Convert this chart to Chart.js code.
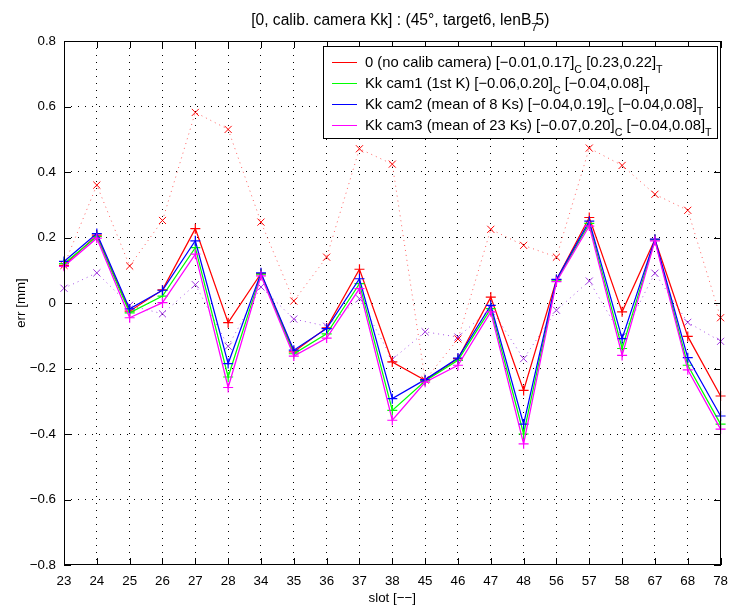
<!DOCTYPE html>
<html><head><meta charset="utf-8">
<script src="https://cdn.jsdelivr.net/npm/chart.js@4.4.0/dist/chart.umd.min.js"></script>
<style>html,body{margin:0;padding:0;background:#fff;}canvas{display:block;}</style>
</head><body>
<canvas id="c" width="736" height="605"></canvas>
<script>
const categories = ['23','24','25','26','27','28','34','35','36','37','38','45','46','47','48','56','57','58','67','68','78'];
const noCalibC = [0.115, 0.207, -0.025, 0.040, 0.227, -0.060, 0.090, -0.149, -0.076, 0.103, -0.180, -0.236, -0.170, 0.018, -0.267, 0.071, 0.261, -0.027, 0.194, -0.102, -0.284];
const cam1C    = [0.120, 0.203, -0.030, 0.021, 0.169, -0.226, 0.088, -0.155, -0.094, 0.059, -0.328, -0.238, -0.175, -0.017, -0.400, 0.068, 0.243, -0.139, 0.193, -0.190, -0.370];
const cam2C    = [0.127, 0.212, -0.018, 0.039, 0.190, -0.185, 0.092, -0.144, -0.078, 0.074, -0.292, -0.234, -0.168, -0.007, -0.370, 0.072, 0.250, -0.109, 0.195, -0.167, -0.345];
const cam3C    = [0.112, 0.198, -0.045, 0.001, 0.149, -0.258, 0.083, -0.162, -0.107, 0.044, -0.358, -0.242, -0.190, -0.027, -0.430, 0.065, 0.235, -0.160, 0.190, -0.204, -0.385];
const noCalibT = [0.115, 0.360, 0.113, 0.252, 0.582, 0.530, 0.247, 0.006, 0.140, 0.471, 0.424, -0.235, -0.110, 0.225, 0.176, 0.140, 0.473, 0.420, 0.332, 0.283, -0.045];
const kkT      = [0.045, 0.092, -0.007, -0.033, 0.056, -0.132, 0.049, -0.049, -0.071, 0.013, -0.172, -0.088, -0.104, -0.017, -0.170, -0.022, 0.067, -0.103, 0.091, -0.059, -0.117];
const yMin = -0.8, yMax = 0.8, yStep = 0.2;
const legendLabels = ['0 (no calib camera)', 'Kk cam1 (1st K)', 'Kk cam2 (mean of 8 Ks)', 'Kk cam3 (mean of 23 Ks)'];
const legendC = ['[\u22120.01,0.17]', '[\u22120.06,0.20]', '[\u22120.04,0.19]', '[\u22120.07,0.20]'];
const legendT = ['[0.23,0.22]', '[\u22120.04,0.08]', '[\u22120.04,0.08]', '[\u22120.04,0.08]'];
const seriesColors = ['#ff0000', '#00ff00', '#0000ff', '#ff00ff'];
const tColors = ['#ff0000', '#a033e0'];
const tLineColors = ['#ff6060', '#a855e6'];
const xTitle = 'slot [\u2212\u2212]';
const yTitle = 'err [mm]';

const FONT = "'Liberation Sans', Arial, Helvetica, sans-serif";
const FS = 13.33;
const LFS = 14.8;
const TFS = 15.6;

function richWidth(ctx, parts, size) {
  let w = 0;
  parts.forEach(p => { ctx.font = (p.sub ? size * 0.72 : size) + 'px ' + FONT; w += ctx.measureText(p.t).width + (p.dx || 0); });
  return w;
}
function drawRich(ctx, parts, x, y, size) {
  let cx = x;
  parts.forEach(p => {
    ctx.font = (p.sub ? size * 0.72 : size) + 'px ' + FONT;
    cx += (p.dx || 0);
    ctx.fillText(p.t, cx, y + (p.sub ? size * 0.38 : 0));
    cx += ctx.measureText(p.t).width;
  });
  return cx;
}

const edgeTransparent = c => (c.index === 0 || c.index === c.scale.ticks.length - 1) ? 'rgba(0,0,0,0)' : '#000000';

const framePlugin = {
  id: 'axesFrame',
  afterDatasetsDraw(chart) {
    const ctx = chart.ctx;
    const a = chart.chartArea;
    const xs = chart.scales.x, ys = chart.scales.y;
    const L = Math.round(a.left), R = Math.round(a.right) - 1, T = Math.round(a.top), B = Math.round(a.bottom) - 1;
    ctx.save();
    ctx.fillStyle = '#000000';
    ctx.fillRect(L, T, R - L + 1, 1);
    ctx.fillRect(L, B, R - L + 1, 1);
    ctx.fillRect(L, T, 1, B - T + 1);
    ctx.fillRect(R, T, 1, B - T + 1);
    const tl = 7;
    for (let i = 0; i < categories.length; i++) {
      const px = Math.round(xs.getPixelForValue(i));
      ctx.fillRect(px, B - tl + 1, 1, tl);
      ctx.fillRect(px, T, 1, tl);
    }
    const n = Math.round((yMax - yMin) / yStep);
    for (let k = 0; k <= n; k++) {
      const py = Math.round(ys.getPixelForValue(yMin + k * yStep));
      ctx.fillRect(L, py, tl, 1);
      ctx.fillRect(R - tl + 1, py, tl, 1);
    }
    ctx.restore();
  }
};

const overlayPlugin = {
  id: 'overlayTexts',
  afterDraw(chart) {
    const {ctx, chartArea: a} = chart;
    ctx.save();
    ctx.setLineDash([]);
    ctx.fillStyle = '#000';
    ctx.textBaseline = 'alphabetic';
    ctx.textAlign = 'left';
    const tParts = [{t: '[0, calib. camera Kk] : (45\u00b0, target6, lenB'}, {t: '7', sub: true}, {t: '5)', dx: -2}];
    const tw = richWidth(ctx, tParts, TFS);
    drawRich(ctx, tParts, (a.left + a.right) / 2 - tw / 2 + 8, 25, TFS);
    ctx.font = FS + 'px ' + FONT;
    ctx.textAlign = 'center';
    ctx.textBaseline = 'middle';
    ctx.fillText(xTitle, (a.left + a.right) / 2, 598);
    ctx.save();
    ctx.translate(21, (a.top + a.bottom) / 2);
    ctx.rotate(-Math.PI / 2);
    ctx.fillText(yTitle, 0, 0);
    ctx.restore();
    ctx.textAlign = 'left';
    ctx.textBaseline = 'alphabetic';
    const rows = legendLabels.map((l, i) => [{t: l + ' ' + legendC[i]}, {t: 'C', sub: true}, {t: ' ' + legendT[i]}, {t: 'T', sub: true}]);
    const textX = 365;
    let maxW = 0;
    rows.forEach(r => { maxW = Math.max(maxW, richWidth(ctx, r, LFS)); });
    const bx = 323, by = 46, bw = Math.round(textX + maxW + 6 - bx), bh = 92;
    ctx.fillStyle = '#fff';
    ctx.fillRect(bx, by, bw, bh);
    ctx.fillStyle = '#000';
    ctx.fillRect(bx, by, bw, 1);
    ctx.fillRect(bx, by + bh, bw + 1, 1);
    ctx.fillRect(bx, by, 1, bh);
    ctx.fillRect(bx + bw, by, 1, bh);
    const rowY = [62, 83, 104, 125];
    rows.forEach((r, i) => {
      ctx.fillStyle = seriesColors[i];
      ctx.fillRect(332, rowY[i], 25, 1);
      ctx.fillStyle = '#000';
      drawRich(ctx, r, textX, rowY[i] + 5, LFS);
    });
    ctx.restore();
  }
};

const solid = (label, data, color, order) => ({
  label, data, order,
  borderColor: color, backgroundColor: color, borderWidth: 1.25,
  pointStyle: 'cross', pointRadius: 5, pointBorderWidth: 1.2,
  pointBorderColor: color, pointBackgroundColor: color, pointHoverRadius: 5,
  tension: 0, fill: false
});
const dotted = (label, data, lineColor, markColor, order) => ({
  label, data, order,
  borderColor: lineColor, backgroundColor: markColor, borderWidth: 1, borderDash: [1, 4],
  pointStyle: 'crossRot', pointRadius: 5, pointBorderWidth: 1,
  pointBorderColor: markColor, pointBackgroundColor: markColor, pointHoverRadius: 5,
  tension: 0, fill: false
});

new Chart(document.getElementById('c'), {
  type: 'line',
  data: {
    labels: categories,
    datasets: [
      dotted('T no calib', noCalibT, tLineColors[0], tColors[0], 6),
      dotted('T Kk', kkT, tLineColors[1], tColors[1], 5),
      solid(legendLabels[0], noCalibC, seriesColors[0], 4),
      solid(legendLabels[1], cam1C, seriesColors[1], 3),
      solid(legendLabels[2], cam2C, seriesColors[2], 2),
      solid(legendLabels[3], cam3C, seriesColors[3], 1)
    ]
  },
  options: {
    responsive: false,
    animation: false,
    devicePixelRatio: 1,
    layout: {padding: {top: 41, right: 8, left: 0, bottom: 0}},
    plugins: {legend: {display: false}, title: {display: false}, tooltip: {enabled: false}},
    scales: {
      x: {
        type: 'category', offset: false,
        grid: {display: true, color: edgeTransparent, lineWidth: 1, drawTicks: false},
        border: {display: false, dash: [1, 6]},
        ticks: {color: '#000', font: {family: FONT, size: FS}, padding: 8, autoSkip: false, maxRotation: 0, minRotation: 0},
        title: {display: false},
        afterFit: s => { s.height = 40; }
      },
      y: {
        min: yMin, max: yMax,
        grid: {display: true, color: edgeTransparent, lineWidth: 1, drawTicks: false},
        border: {display: false, dash: [1, 6]},
        ticks: {stepSize: yStep, color: '#000', font: {family: FONT, size: FS}, padding: 8,
          callback: v => Math.abs(v) < 1e-9 ? '0' : (v < 0 ? '\u2212' : '') + Math.abs(v).toFixed(1)},
        title: {display: false},
        afterFit: s => { s.width = 64; }
      }
    }
  },
  plugins: [framePlugin, overlayPlugin]
});
</script>
</body></html>
